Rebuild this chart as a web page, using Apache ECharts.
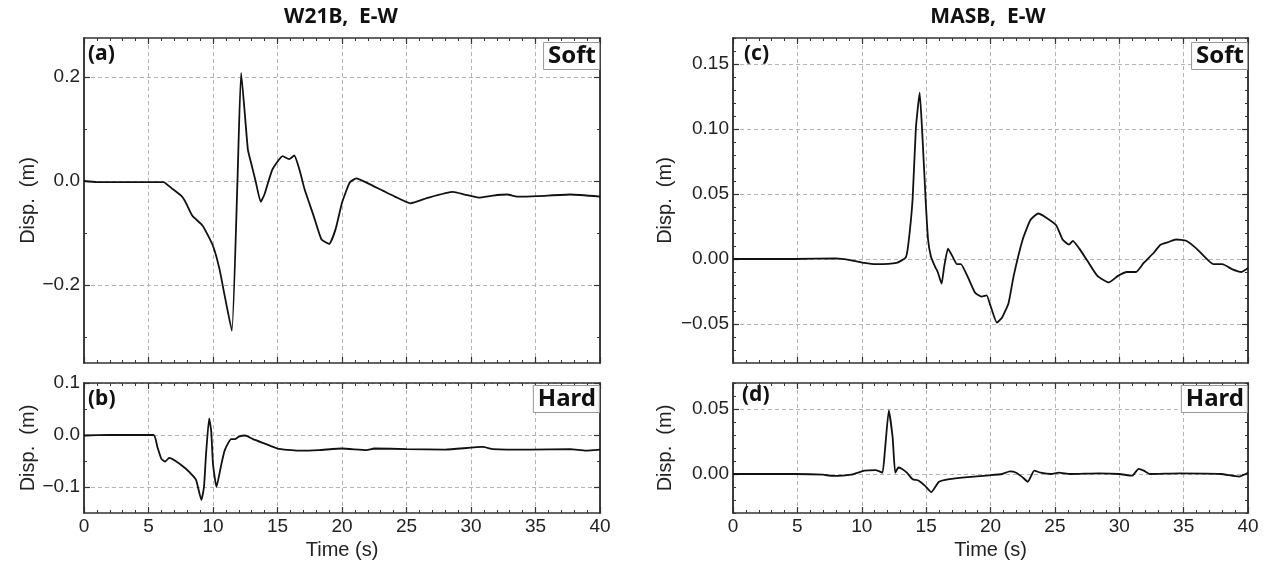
<!DOCTYPE html>
<html>
<head>
<meta charset="utf-8">
<script src="https://cdn.jsdelivr.net/npm/echarts@6/dist/echarts.min.js"></script>
<style>
  html, body { margin: 0; padding: 0; background: #fff; }
  #chart { width: 1270px; height: 567px; }
</style>
</head>
<body>
<div id="chart"></div>
<script>
// time axis ticks (s)
const timeTicks = [0, 5, 10, 15, 20, 25, 30, 35, 40]

// (a) W21B soft
const timeA = [0, 1, 3, 6.15, 6.9, 7.6, 7.9, 8.4, 9.2, 10.0, 10.5, 10.9, 11.46, 11.9, 12.18, 12.7, 12.95, 13.3, 13.7, 14.0, 14.6, 15.4, 15.9, 16.3, 16.7, 17.1, 17.8, 18.4, 19.0, 19.5, 20.0, 20.6, 21.1, 21.9, 23.2, 24.1, 25.3, 26.7, 28.6, 29.5, 30.6, 31.7, 32.8, 33.6, 35.2, 37.7, 40]
const dispA = [0, -0.002, -0.002, -0.002, -0.016, -0.03, -0.042, -0.067, -0.086, -0.125, -0.169, -0.22, -0.288, 0.003, 0.208, 0.061, 0.035, 0.0, -0.04, -0.025, 0.022, 0.048, 0.042, 0.049, 0.022, -0.016, -0.067, -0.112, -0.121, -0.093, -0.042, -0.003, 0.005, -0.003, -0.019, -0.03, -0.043, -0.032, -0.021, -0.026, -0.032, -0.028, -0.026, -0.03, -0.029, -0.026, -0.03]

// (b) W21B hard
const timeB = [0, 2, 5.4, 5.7, 6.0, 6.3, 6.6, 7.1, 7.9, 8.5, 8.7, 9.1, 9.3, 9.46, 9.7, 9.86, 10.0, 10.27, 10.6, 10.9, 11.4, 11.7, 12.0, 12.5, 13.1, 14.06, 15.0, 16.6, 18.2, 20.0, 21.9, 22.5, 25.0, 28.0, 30.9, 31.7, 34.6, 37.7, 38.9, 40]
const dispB = [-0.001, 0, 0, -0.024, -0.046, -0.051, -0.044, -0.05, -0.065, -0.08, -0.087, -0.125, -0.1, -0.037, 0.032, 0.008, -0.056, -0.1, -0.062, -0.03, -0.008, -0.008, -0.003, -0.001, -0.008, -0.017, -0.026, -0.03, -0.029, -0.026, -0.029, -0.026, -0.027, -0.028, -0.023, -0.027, -0.028, -0.027, -0.03, -0.028]

// (c) MASB soft
const timeC = [0, 4.8, 8.0, 9.2, 10.2, 11.1, 12.7, 13.4, 13.6, 13.95, 14.2, 14.5, 14.7, 14.96, 15.15, 15.37, 15.7, 15.9, 16.2, 16.4, 16.7, 17.1, 17.4, 17.7, 18.2, 18.8, 19.3, 19.7, 20.0, 20.5, 20.9, 21.4, 21.8, 22.5, 23.1, 23.7, 24.3, 25.1, 25.6, 26.1, 26.4, 26.9, 27.5, 28.3, 29.2, 29.9, 30.6, 31.3, 31.9, 32.7, 33.2, 33.8, 34.4, 35.2, 36.0, 36.6, 37.3, 38.0, 38.8, 39.5, 40]
const dispC = [0, 0, 0.0005, -0.001, -0.003, -0.004, -0.003, 0.001, 0.01, 0.046, 0.1, 0.128, 0.097, 0.046, 0.015, 0.002, -0.006, -0.01, -0.019, -0.006, 0.008, 0.001, -0.004, -0.004, -0.013, -0.026, -0.029, -0.028, -0.036, -0.049, -0.045, -0.034, -0.013, 0.015, 0.03, 0.035, 0.032, 0.026, 0.015, 0.011, 0.014, 0.008, -0.001, -0.013, -0.018, -0.013, -0.01, -0.01, -0.003, 0.005, 0.011, 0.013, 0.015, 0.014, 0.008, 0.002, -0.004, -0.004, -0.008, -0.01, -0.007]

// (d) MASB hard
const timeD = [0, 4.8, 7.0, 7.7, 9.2, 10.2, 11.1, 11.6, 11.8, 12.1, 12.4, 12.6, 12.85, 13.1, 13.5, 13.95, 14.4, 14.9, 15.4, 16.0, 16.8, 18.0, 19.9, 20.9, 21.5, 22.0, 22.5, 22.9, 23.4, 23.9, 24.7, 25.3, 26.2, 28.4, 30.0, 31.0, 31.5, 31.9, 32.4, 34.7, 37.9, 39.3, 40]
const dispD = [0, 0, -0.0005, -0.0015, -0.0005, 0.0026, 0.003, 0.001, 0.018, 0.049, 0.028, 0.001, 0.005, 0.004, 0.001, -0.004, -0.005, -0.009, -0.014, -0.006, -0.004, -0.0026, -0.001, 0, 0.002, 0.001, -0.0026, -0.006, 0.0026, 0.001, 0, 0.001, 0, 0.0005, 0, -0.0013, 0.004, 0.0026, 0, 0.0005, 0, -0.002, 0.001]

// y ticks per panel
const yMajorA = [-0.2, 0, 0.2]
const yMinorA = [-0.3, -0.1, 0.1]
const yMajorB = [-0.1, 0, 0.1]
const yMinorB = [-0.05, 0.05]
const yMajorC = [-0.05, 0, 0.05, 0.1, 0.15]
const yMinorC = [-0.07, -0.06, -0.04, -0.03, -0.02, -0.01, 0.01, 0.02, 0.03, 0.04, 0.06, 0.07, 0.08, 0.09, 0.11, 0.12, 0.13, 0.14, 0.16, 0.17]
const yMajorD = [0, 0.05]
const yMinorD = [-0.03, -0.02, -0.01, 0.01, 0.02, 0.03, 0.04, 0.06, 0.07]

const frameColor = '#333'
const gridColor = '#b5b5b5'
const labelFont = 'Liberation Sans'
const boldFont = 'Noto Sans'

const panels = [
  { left: 84, top: 38, width: 516, height: 325, min: -0.35, max: 0.275, major: yMajorA, minor: yMinorA, dec: 1, xLabel: false, t: timeA, d: dispA, gap: 46 },
  { left: 84, top: 383, width: 516, height: 130, min: -0.15, max: 0.1, major: yMajorB, minor: yMinorB, dec: 1, xLabel: true, t: timeB, d: dispB, gap: 46 },
  { left: 733, top: 38, width: 515, height: 325, min: -0.08, max: 0.17, major: yMajorC, minor: yMinorC, dec: 2, xLabel: false, t: timeC, d: dispC, gap: 58 },
  { left: 733, top: 383, width: 515, height: 130, min: -0.03, max: 0.07, major: yMajorD, minor: yMinorD, dec: 2, xLabel: true, t: timeD, d: dispD, gap: 58 }
]

function fmt(dec) {
  return v => (v < 0 ? '\u2212' : '') + Math.abs(v).toFixed(dec)
}

const grid = []
const xAxis = []
const yAxis = []
const series = []

panels.forEach((p, i) => {
  grid.push({ left: p.left, top: p.top, width: p.width, height: p.height, containLabel: false, outerBoundsMode: 'none' })
  const xBase = {
    type: 'value', gridIndex: i, min: 0, max: 40, interval: 5,
    axisLine: { show: true, onZero: false, lineStyle: { color: frameColor, width: 1.5 } },
    axisTick: { show: true, inside: true, length: 6, lineStyle: { color: frameColor, width: 1.2 } },
    minorTick: { show: true, splitNumber: 5, length: 3, lineStyle: { color: frameColor, width: 1 } }
  }
  xAxis.push(Object.assign({}, xBase, {
    position: 'bottom',
    axisLabel: { show: p.xLabel, color: '#222', fontFamily: labelFont, fontSize: 19, margin: 4,
      customValues: timeTicks },
    splitLine: { show: true, lineStyle: { color: gridColor, type: [4, 3], width: 1 } },
    name: p.xLabel ? 'Time (s)' : '', nameLocation: 'middle', nameGap: 27,
    nameTextStyle: { color: '#222', fontFamily: labelFont, fontSize: 20 }
  }))
  xAxis.push(Object.assign({}, xBase, {
    position: 'top', axisLabel: { show: false }, splitLine: { show: false }
  }))
  const yBase = {
    type: 'value', gridIndex: i, min: p.min, max: p.max,
    axisLine: { show: true, onZero: false, lineStyle: { color: frameColor, width: 1.5 } },
    axisLabel: { show: false },
    splitLine: { show: false },
    minorTick: { show: false }
  }
  const majorTick = { show: true, inside: true, length: 6, customValues: p.major, lineStyle: { color: frameColor, width: 1.2 } }
  const minorTick = { show: true, inside: true, length: 3, customValues: p.minor, lineStyle: { color: frameColor, width: 1 } }
  yAxis.push(Object.assign({}, yBase, {
    position: 'left',
    axisTick: majorTick,
    axisLabel: { show: true, customValues: p.major, formatter: fmt(p.dec), color: '#222',
      fontFamily: labelFont, fontSize: 19, margin: 4 },
    splitLine: { show: true, lineStyle: { color: gridColor, type: [4, 3], width: 1 } },
    name: 'Disp.  (m)', nameLocation: 'middle', nameRotate: 90, nameGap: p.gap,
    nameTextStyle: { color: '#222', fontFamily: labelFont, fontSize: 20 }
  }))
  yAxis.push(Object.assign({}, yBase, { position: 'left', axisTick: minorTick }))
  yAxis.push(Object.assign({}, yBase, { position: 'right', axisTick: majorTick }))
  yAxis.push(Object.assign({}, yBase, { position: 'right', axisTick: minorTick }))

  series.push({
    type: 'line', xAxisIndex: i * 2, yAxisIndex: i * 4,
    data: p.t.map((t, k) => [t, p.d[k]]),
    showSymbol: false, smooth: 0.15,
    lineStyle: { color: '#111', width: 1.8 },
    silent: true, animation: false
  })
})

function boxLabel(text, right, top) {
  return {
    text: text, right: right, top: top, padding: [0, 4, 0, 5],
    backgroundColor: '#fff', borderColor: '#999', borderWidth: 1,
    textStyle: { fontFamily: boldFont, fontWeight: 'bold', fontSize: 24, color: '#111', lineHeight: 28 }
  }
}
function panelLabel(text, left, top) {
  return {
    text: text, left: left, top: top, padding: 0,
    textStyle: { fontFamily: boldFont, fontWeight: 'bold', fontSize: 21, color: '#111' }
  }
}

const title = [
  { text: 'W21B,  E-W', left: 341, top: 7, textAlign: 'center', padding: 0,
    textStyle: { fontFamily: boldFont, fontWeight: 'bold', fontSize: 21, color: '#111' } },
  { text: 'MASB,  E-W', left: 988, top: 7, textAlign: 'center', padding: 0,
    textStyle: { fontFamily: boldFont, fontWeight: 'bold', fontSize: 21, color: '#111' } },
  panelLabel('(a)', 88, 44),
  panelLabel('(b)', 88, 389),
  panelLabel('(c)', 744, 44),
  panelLabel('(d)', 742, 385),
  boxLabel('Soft', 1270 - 600, 42),
  boxLabel('Hard', 1270 - 600, 385),
  boxLabel('Soft', 1270 - 1248, 42),
  boxLabel('Hard', 1270 - 1248, 385)
]

const chart = echarts.init(document.getElementById('chart'), null, { renderer: 'canvas' })
chart.setOption({
  backgroundColor: '#fff',
  animation: false,
  title: title,
  grid: grid,
  xAxis: xAxis,
  yAxis: yAxis,
  series: series
})
</script>
</body>
</html>
